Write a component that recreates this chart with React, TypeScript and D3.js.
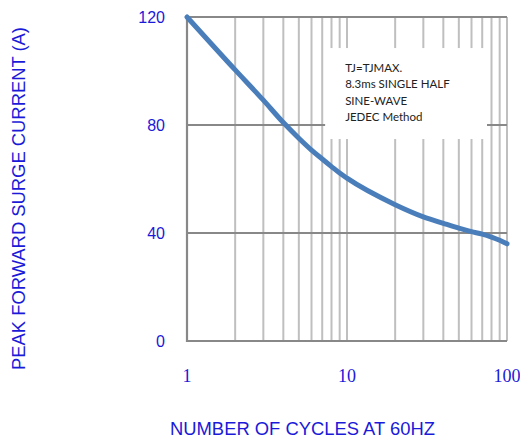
import { useEffect, useRef } from 'react';
import * as d3 from 'd3';

// Peak forward surge current vs number of cycles
const cycles = [1, 2, 3, 4, 5, 6, 7, 8, 9, 10, 20, 30, 40, 50, 60, 70, 80, 90, 100];
const current = [120, 100.4, 89.2, 80.9, 75.1, 70.7, 67.4, 64.6, 62.2, 60.3, 50.5, 46, 43.6, 41.8, 40.5, 39.6, 38.5, 37.3, 36];
const yTicks = [0, 40, 80, 120];
const xLabels = [1, 10, 100];
const noteLines = ['TJ=TJMAX.', '8.3ms SINGLE HALF', 'SINE-WAVE', 'JEDEC Method'];

const BLUE = '#1a1ad8';

export default function App() {
  const svgRef = useRef<SVGSVGElement>(null);

  useEffect(() => {
    document.body.style.margin = '0';
    if (!svgRef.current) return;
    const svg = d3.select(svgRef.current);
    svg.selectAll('*').remove();

    const left = 187;
    const right = 507;
    const top = 17;
    const bottom = 341;

    const x = d3.scaleLog().domain([1, 100]).range([left, right]);
    const y = d3.scaleLinear().domain([0, 120]).range([bottom, top]);

    // vertical grid (minor log lines)
    svg
      .append('g')
      .selectAll('line')
      .data(x.ticks().filter((t) => t > 1))
      .join('line')
      .attr('x1', (d) => x(d))
      .attr('x2', (d) => x(d))
      .attr('y1', top)
      .attr('y2', bottom)
      .attr('stroke', '#bfbfbf')
      .attr('stroke-width', 2);

    // horizontal grid + top border
    svg
      .append('g')
      .selectAll('line')
      .data(yTicks.filter((t) => t > 0))
      .join('line')
      .attr('x1', left)
      .attr('x2', right)
      .attr('y1', (d) => y(d))
      .attr('y2', (d) => y(d))
      .attr('stroke', '#888888')
      .attr('stroke-width', 2);

    // axes
    svg
      .append('path')
      .attr('d', `M${left},${top}V${bottom}H${right}`)
      .attr('fill', 'none')
      .attr('stroke', '#888888')
      .attr('stroke-width', 2.2);

    // note box
    const bx0 = x(7.3);
    const bx1 = x(75);
    const by0 = y(108.5);
    const by1 = y(74.8);
    svg
      .append('rect')
      .attr('x', bx0)
      .attr('y', by0)
      .attr('width', bx1 - bx0)
      .attr('height', by1 - by0)
      .attr('fill', '#ffffff');

    svg
      .append('g')
      .selectAll('text')
      .data(noteLines)
      .join('text')
      .attr('x', bx0 + 20)
      .attr('y', (_, i) => by0 + 24 + i * 16.3)
      .attr('font-family', 'Lato, "Open Sans", sans-serif')
      .attr('font-size', 11.5)
      .attr('fill', '#222222')
      .text((d) => d);

    // curve
    const line = d3
      .line<number>()
      .x((_, i) => x(cycles[i]))
      .y((d) => y(d))
      .curve(d3.curveMonotoneX);

    svg
      .append('path')
      .datum(current)
      .attr('d', line)
      .attr('fill', 'none')
      .attr('stroke', '#4a7ebb')
      .attr('stroke-width', 5)
      .attr('stroke-linecap', 'round');

    // y tick labels
    svg
      .append('g')
      .selectAll('text')
      .data(yTicks)
      .join('text')
      .attr('x', 165)
      .attr('y', (d) => y(d))
      .attr('dy', '0.36em')
      .attr('text-anchor', 'end')
      .attr('font-family', '"Liberation Sans", Arial, sans-serif')
      .attr('font-size', 16)
      .attr('fill', BLUE)
      .text((d) => d);

    // x tick labels
    svg
      .append('g')
      .selectAll('text')
      .data(xLabels)
      .join('text')
      .attr('x', (d) => x(d))
      .attr('y', 382)
      .attr('text-anchor', 'middle')
      .attr('font-family', '"Liberation Serif", "Times New Roman", serif')
      .attr('font-size', 18)
      .attr('fill', BLUE)
      .text((d) => d);

    // axis titles
    svg
      .append('text')
      .attr('x', 302.5)
      .attr('y', 435)
      .attr('text-anchor', 'middle')
      .attr('font-family', '"Liberation Sans", Arial, sans-serif')
      .attr('font-size', 18.4)
      .attr('fill', BLUE)
      .text('NUMBER OF CYCLES AT 60HZ');

    svg
      .append('text')
      .attr('transform', 'translate(25,198.5) rotate(-90)')
      .attr('text-anchor', 'middle')
      .attr('font-family', '"Liberation Sans", Arial, sans-serif')
      .attr('font-size', 18.4)
      .attr('fill', BLUE)
      .text('PEAK FORWARD SURGE CURRENT (A)');
  }, []);

  return <svg ref={svgRef} width={520} height={439} style={{ display: 'block', background: '#ffffff' }} />;
}
